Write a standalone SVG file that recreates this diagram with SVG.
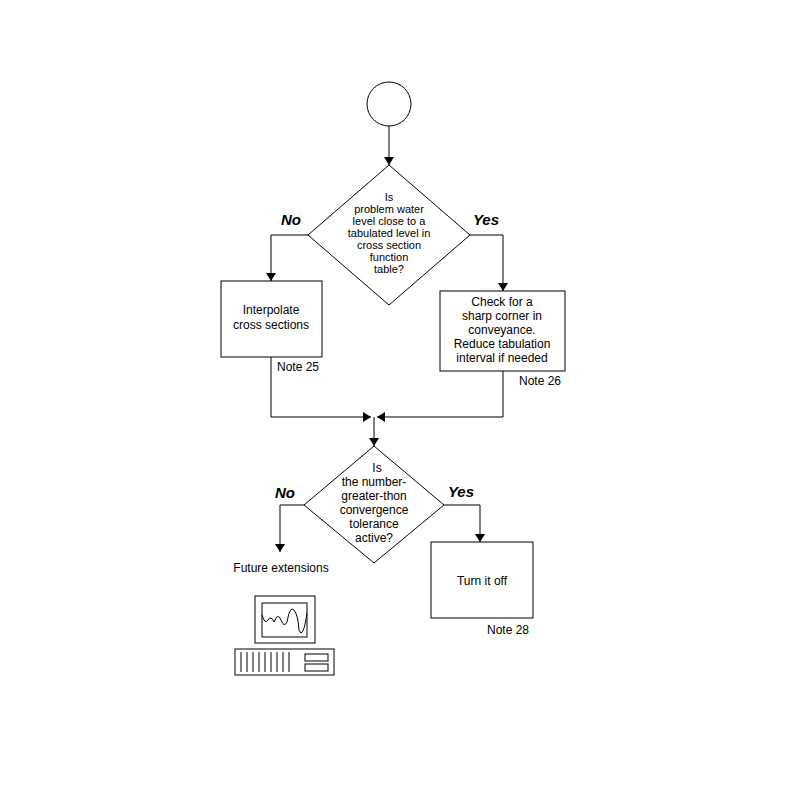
<svg xmlns="http://www.w3.org/2000/svg" width="791" height="791" viewBox="0 0 791 791">
<style>
.s{fill:#fff;stroke:#000;stroke-width:1}
.l{fill:none;stroke:#000;stroke-width:1}
text{font-family:"Liberation Sans",Arial,sans-serif;font-size:12px;text-anchor:middle}
.d{font-size:11px}
.b{font-weight:bold;font-style:italic;font-size:15px}
</style>
<defs><marker id="a" markerWidth="8" markerHeight="10" refX="8" refY="5" orient="auto" markerUnits="userSpaceOnUse"><path d="M0,0L8,5L0,10z"/></marker></defs>
<rect width="791" height="791" fill="#fff"/>
<g id="connectors">
<path class="l" d="M389,126V165" marker-end="url(#a)"/>
<path class="l" d="M308,235H271V281" marker-end="url(#a)"/>
<path class="l" d="M470,235H503V291" marker-end="url(#a)"/>
<path class="l" d="M271,357V417H371" marker-end="url(#a)"/>
<path class="l" d="M503,371V417H377" marker-end="url(#a)"/>
<path class="l" d="M374,417V446" marker-end="url(#a)"/>
<path class="l" d="M304,505H280V552" marker-end="url(#a)"/>
<path class="l" d="M444,505H480V542" marker-end="url(#a)"/>
</g>
<g id="start"><circle class="s" cx="389" cy="104" r="22"/></g>
<g id="d1"><path class="s" d="M389,165L470,235L389,305L308,235z"/>
<text class="d" x="389" y="201">Is</text><text class="d" x="389" y="213">problem water</text><text class="d" x="389" y="225">level close to a</text><text class="d" x="389" y="237">tabulated level in</text><text class="d" x="389" y="249">cross section</text><text class="d" x="389" y="261">function</text><text class="d" x="389" y="273">table?</text>
<text class="b" x="291" y="225">No</text><text class="b" x="486" y="225">Yes</text></g>
<g id="b1"><rect class="s" x="221" y="281" width="101" height="76"/><text x="271" y="314">Interpolate</text><text x="271" y="329">cross sections</text><text x="298" y="371">Note 25</text></g>
<g id="b2"><rect class="s" x="440" y="291" width="125" height="80"/><text x="502" y="306">Check for a</text><text x="502" y="320">sharp corner in</text><text x="502" y="334">conveyance.</text><text x="502" y="348">Reduce tabulation</text><text x="502" y="362">interval if needed</text><text x="540" y="385">Note 26</text></g>
<g id="d2"><path class="s" d="M374,446L444,505L374,563L304,505z"/>
<text x="377" y="472">Is</text><text x="374" y="486">the  number-</text><text x="374" y="500">greater-thon</text><text x="374" y="514">convergence</text><text x="374" y="528">tolerance</text><text x="374" y="542">active?</text>
<text class="b" x="285" y="498">No</text><text class="b" x="461" y="497">Yes</text></g>
<g id="fut"><text x="281" y="572">Future extensions</text></g>
<g id="b3"><rect class="s" x="431" y="542" width="102" height="76"/><text x="482" y="585">Turn it off</text><text x="508" y="634">Note 28</text></g>
<g id="computer">
<rect class="s" x="255" y="596" width="60" height="47"/><rect class="s" x="262" y="603" width="45" height="34"/>
<path class="l" d="M262,615Q265,625 268,620T274,622Q278,612 281,620T287,622Q290,605 294,610T299,630Q303,640 307,613"/>
<rect class="s" x="235" y="649" width="99" height="26" stroke-width="2"/>
<path class="l" stroke-width="2" d="M241,652V672M247,652V672M253,652V672M259,652V672M265,652V672M271,652V672M277,652V672M283,652V672M289,652V672"/>
<rect class="s" x="305" y="654" width="23" height="7"/><rect class="s" x="305" y="664" width="23" height="7"/>
</g>
</svg>
